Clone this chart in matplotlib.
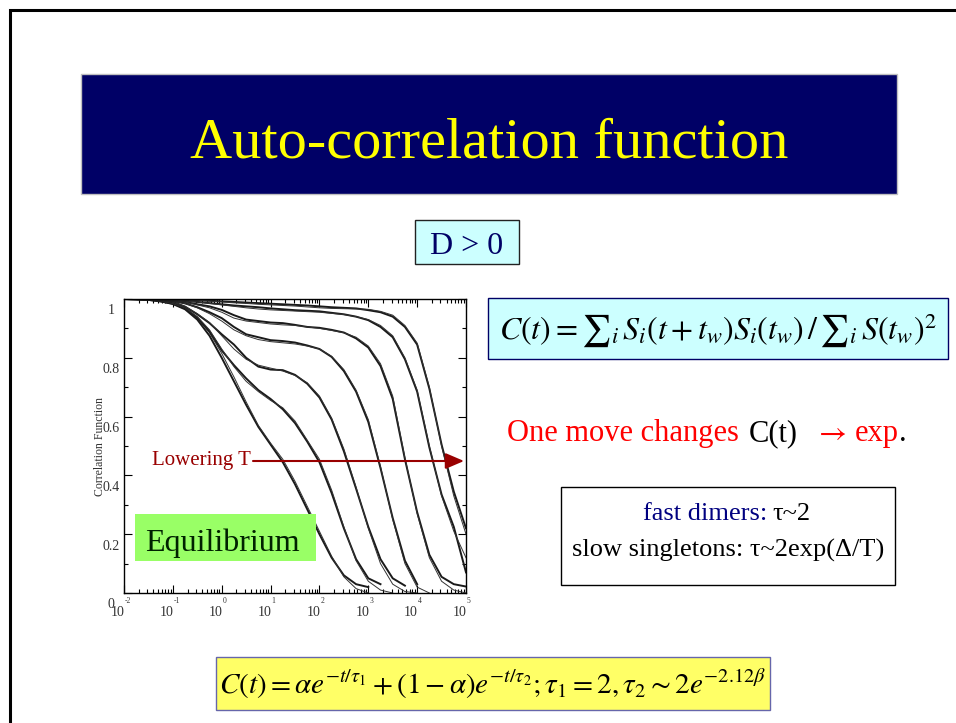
import numpy as np
import matplotlib.pyplot as plt
from matplotlib.patches import Rectangle
from matplotlib import transforms
from matplotlib.ticker import LogLocator, MultipleLocator, NullFormatter

plt.rcParams['font.family'] = ['Liberation Serif', 'DejaVu Serif']
plt.rcParams['mathtext.fontset'] = 'stix'

# log10 of time, shared by all curves
log_t = [-2, -1.75, -1.5, -1.25, -1, -0.75, -0.5, -0.25, 0, 0.25, 0.5, 0.75,
         1, 1.25, 1.5, 1.75, 2, 2.25, 2.5, 2.75, 3, 3.25, 3.5, 3.75, 4, 4.25,
         4.5, 4.75, 5]
nan = np.nan

# fitted curves, highest temperature first
fit_a = [1.0, 0.999, 0.997, 0.993, 0.985, 0.968, 0.935, 0.885, 0.815, 0.735, 0.65, 0.57,
         0.51, 0.455, 0.38, 0.295, 0.21, 0.125, 0.055, 0.015, 0.0, nan, nan, nan, nan, nan,
         nan, nan, nan]
fit_b = [1.0, 0.999, 0.997, 0.993, 0.985, 0.97, 0.94, 0.895, 0.83, 0.77, 0.72, 0.685,
         0.655, 0.63, 0.585, 0.52, 0.455, 0.35, 0.225, 0.11, 0.04, 0.01, 0.0, nan, nan, nan,
         nan, nan, nan]
fit_c = [1.0, 0.999, 0.998, 0.995, 0.99, 0.975, 0.95, 0.92, 0.875, 0.83, 0.795, 0.775,
         0.765, 0.755, 0.74, 0.715, 0.67, 0.595, 0.49, 0.36, 0.22, 0.10, 0.03, 0.005, 0.0,
         nan, nan, nan, nan]
fit_d = [1.0, 0.999, 0.998, 0.997, 0.993, 0.985, 0.97, 0.95, 0.925, 0.895, 0.875, 0.862,
         0.855, 0.851, 0.847, 0.84, 0.83, 0.805, 0.76, 0.69, 0.59, 0.43, 0.25, 0.10, 0.02,
         0.0, nan, nan, nan]
fit_e = [1.0, 1.0, 0.999, 0.998, 0.995, 0.99, 0.98, 0.97, 0.955, 0.935, 0.925, 0.92,
         0.915, 0.912, 0.91, 0.905, 0.9, 0.893, 0.885, 0.87, 0.84, 0.78, 0.67, 0.46, 0.27,
         0.12, 0.04, 0.01, 0.0]
fit_f = [1.0, 1.0, 1.0, 0.999, 0.997, 0.994, 0.99, 0.985, 0.98, 0.975, 0.97, 0.966,
         0.963, 0.961, 0.959, 0.957, 0.955, 0.951, 0.947, 0.94, 0.93, 0.91, 0.875, 0.80,
         0.69, 0.50, 0.33, 0.21, 0.12]
fit_g = [1.0, 1.0, 1.0, 1.0, 0.999, 0.998, 0.996, 0.993, 0.99, 0.987, 0.985, 0.982,
         0.98, 0.978, 0.976, 0.973, 0.97, 0.968, 0.967, 0.966, 0.965, 0.958, 0.945, 0.91,
         0.85, 0.70, 0.50, 0.33, 0.20]

# measured curves (thicker lines)
data_a = [1.0, 0.999, 0.997, 0.992, 0.983, 0.965, 0.93, 0.875, 0.80, 0.72, 0.64, 0.565,
          0.505, 0.445, 0.37, 0.285, 0.2, 0.12, 0.06, 0.03, 0.02, nan, nan, nan, nan, nan,
          nan, nan, nan]
data_b = [1.0, 0.999, 0.997, 0.992, 0.984, 0.968, 0.937, 0.89, 0.825, 0.775, 0.73, 0.69,
          0.66, 0.625, 0.578, 0.515, 0.445, 0.34, 0.22, 0.115, 0.05, 0.03, nan, nan, nan,
          nan, nan, nan, nan]
data_c = [1.0, 0.999, 0.998, 0.995, 0.99, 0.974, 0.948, 0.918, 0.88, 0.845, 0.80, 0.77,
          0.76, 0.758, 0.742, 0.712, 0.665, 0.59, 0.482, 0.355, 0.225, 0.115, 0.05, 0.025,
          nan, nan, nan, nan, nan]
data_d = [1.0, 0.999, 0.998, 0.997, 0.993, 0.985, 0.972, 0.955, 0.935, 0.905, 0.88, 0.87,
          0.86, 0.857, 0.852, 0.842, 0.83, 0.803, 0.755, 0.685, 0.582, 0.425, 0.255, 0.11,
          0.03, nan, nan, nan, nan]
data_e = [1.0, 1.0, 0.999, 0.998, 0.995, 0.99, 0.982, 0.975, 0.963, 0.945, 0.93, 0.925,
          0.92, 0.918, 0.912, 0.905, 0.902, 0.895, 0.886, 0.866, 0.835, 0.772, 0.66, 0.455,
          0.275, 0.13, 0.055, 0.03, 0.022]
data_f = [1.0, 1.0, 1.0, 0.999, 0.997, 0.994, 0.99, 0.986, 0.982, 0.978, 0.975, 0.972,
          0.968, 0.965, 0.962, 0.96, 0.958, 0.953, 0.948, 0.94, 0.928, 0.905, 0.87, 0.795,
          0.685, 0.495, 0.335, 0.225, 0.07]
data_g = [1.0, 1.0, 1.0, 1.0, 0.999, 0.998, 0.996, 0.994, 0.992, 0.99, 0.988, 0.986,
          0.984, 0.982, 0.98, 0.978, 0.975, 0.972, 0.97, 0.968, 0.962, 0.955, 0.94, 0.905,
          0.845, 0.695, 0.505, 0.345, 0.22]

fits = [fit_a, fit_b, fit_c, fit_d, fit_e, fit_f, fit_g]
measured = [data_a, data_b, data_c, data_d, data_e, data_f, data_g]

y_ticks = [0, 0.2, 0.4, 0.6, 0.8, 1]
y_tick_labels = ['0', '0.2', '0.4', '0.6', '0.8', '1']
x_decades = [-2, -1, 0, 1, 2, 3, 4, 5]

fig = plt.figure(figsize=(9.56, 7.23), dpi=100)

# slide background in pixel coordinates
bg = fig.add_axes([0, 0, 1, 1])
bg.set_xlim(0, 956)
bg.set_ylim(723, 0)
bg.axis('off')

# slide frame
bg.plot([10.5, 10.5, 960], [730, 9.5, 9.5], color='black', lw=2.2,
        solid_capstyle='butt', solid_joinstyle='miter')

# title bar
bg.add_patch(Rectangle((81, 74), 816, 120, fc='#000066', ec='#c0c0c0', lw=1))
bg.text(489, 157, 'Auto-correlation function', color='#ffff00', fontsize=42,
        ha='center', va='baseline')

# D > 0
bg.add_patch(Rectangle((415, 220), 104, 44, fc='#ccffff', ec='#222222', lw=1))
bg.text(467, 254, 'D > 0', color='#000066', fontsize=23, ha='center', va='baseline')

# definition of C(t)
bg.add_patch(Rectangle((488, 298), 460, 61, fc='#ccffff', ec='#000066', lw=1))
bg.text(718, 330, r'$C(t) = {\sum}_i\, S_i(t+t_w)S_i(t_w)\,/\,{\sum}_i\, S(t_w)^2$',
        fontsize=23, ha='center', va='center')

# one move statement, mixed colours on one baseline
bg.text(507, 441, 'One move changes', color='#ff0000', fontsize=22, va='baseline')
bg.text(749, 441, 'C(t)', color='black', fontsize=22, va='baseline')
bg.text(814, 441, r'$\rightarrow$', color='#ff0000', fontsize=22, va='baseline')
bg.text(855, 441, 'exp', color='#ff0000', fontsize=22, va='baseline')
bg.text(899, 441, '.', color='black', fontsize=22, va='baseline')

# time scales box
bg.add_patch(Rectangle((561, 487), 334, 98, fc='white', ec='black', lw=1))
bg.text(643, 520, 'fast dimers:', color='#000080', fontsize=19, va='baseline')
bg.text(772, 520, '\u03c4~2', color='black', fontsize=19, va='baseline')
bg.text(728, 557, 'slow singletons: \u03c4~2exp(\u0394/T)', color='black', fontsize=19,
        ha='center', va='baseline')

# two-exponential form
bg.add_patch(Rectangle((216, 657), 554, 53, fc='#ffff66', ec='#6666aa', lw=1))
bg.text(493, 684, r'$C(t) = \alpha e^{-t/\tau_1} + (1-\alpha)e^{-t/\tau_2};'
        r'\tau_1 = 2, \tau_2 \sim 2e^{-2.12\beta}$',
        fontsize=21, ha='center', va='center')

# y axis title
bg.text(100, 447, 'Correlation Function', rotation=90, fontsize=8.5, color='#333333',
        ha='center', va='center')

# correlation plot
ax = fig.add_axes([124 / 956, (723 - 593) / 723, 342 / 956, 294 / 723])
ax.set_xscale('log')
t = 10.0 ** np.array(log_t)
for fit, meas in zip(fits, measured):
    ax.plot(t, meas, color='#1a1a1a', lw=1.4)
    ax.plot(t, fit, color='#333333', lw=0.7)
ax.set_xlim(1e-2, 1e5)
ax.set_ylim(0, 1)
ax.set_yticks(y_ticks)
ax.yaxis.set_minor_locator(MultipleLocator(0.1))
ax.xaxis.set_major_locator(LogLocator(base=10, numticks=20))
ax.xaxis.set_minor_locator(LogLocator(base=10, subs=range(2, 10), numticks=20))
ax.xaxis.set_minor_formatter(NullFormatter())
ax.tick_params(which='both', direction='in', top=True, right=True,
               labelbottom=False, labelleft=False, width=0.8)
ax.tick_params(which='major', length=6)
ax.tick_params(which='minor', length=3)
for sp in ax.spines.values():
    sp.set_linewidth(1.0)

# tick labels placed by hand, offset like the original export
ytrans = transforms.offset_copy(transforms.blended_transform_factory(ax.transAxes, ax.transData),
                                fig=fig, x=-13, y=-12, units='dots')
for v, lab in zip(y_ticks, y_tick_labels):
    ax.text(0, v, lab, transform=ytrans, fontsize=10, ha='center', va='center',
            color='#333333')
xtrans_base = transforms.offset_copy(transforms.blended_transform_factory(ax.transData, ax.transAxes),
                                     fig=fig, x=-6, y=-19, units='dots')
xtrans_exp = transforms.offset_copy(transforms.blended_transform_factory(ax.transData, ax.transAxes),
                                    fig=fig, x=1, y=-8, units='dots')
for d in x_decades:
    ax.text(10.0 ** d, 0, '10', transform=xtrans_base, fontsize=10, ha='center',
            va='center', color='#333333')
    ax.text(10.0 ** d, 0, str(d), transform=xtrans_exp, fontsize=5.5, ha='left',
            va='center', color='#333333')

# overlay annotations on top of the plot
top = fig.add_axes([0, 0, 1, 1], zorder=5)
top.set_xlim(0, 956)
top.set_ylim(723, 0)
top.axis('off')
top.patch.set_alpha(0)

top.add_patch(Rectangle((135, 514), 181, 47, fc='#99ff66', ec='none'))
top.text(145, 551, 'Equilibrium', color='#002200', fontsize=23, va='baseline')

top.text(251, 461, 'Lowering T', color='#990000', fontsize=15, ha='right', va='center')
top.annotate('', xy=(464, 461), xytext=(253, 461),
             arrowprops=dict(arrowstyle='-|>,head_length=0.7,head_width=0.3',
                             color='#990000', lw=1.5, mutation_scale=16,
                             shrinkA=0, shrinkB=0))

fig.savefig('out.png', dpi=100)
